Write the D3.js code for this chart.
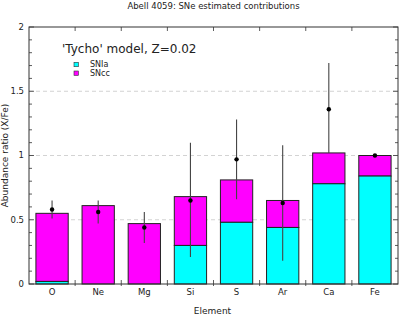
<!DOCTYPE html>
<html>
<head>
<meta charset="utf-8">
<script src="https://cdn.jsdelivr.net/npm/d3@7"></script>
<style>
  body { margin: 0; background: #fff; }
  svg { display: block; font-family: "DejaVu Sans", sans-serif; }
</style>
</head>
<body>
<div id="chart"></div>
<script>
// values
var elements = ["O", "Ne", "Mg", "Si", "S", "Ar", "Ca", "Fe"];
var snIa = [0.02, 0, 0, 0.30, 0.48, 0.44, 0.78, 0.84];
var snCC = [0.53, 0.61, 0.47, 0.38, 0.33, 0.21, 0.24, 0.16];
var measured = [0.58, 0.56, 0.44, 0.65, 0.97, 0.63, 1.36, 1.00];
var errLow = [0.51, 0.47, 0.32, 0.21, 0.66, 0.18, 1.02, 1.00];
var errHigh = [0.65, 0.65, 0.56, 1.10, 1.28, 1.08, 1.72, 1.00];
var yTicks = [0, 0.5, 1, 1.5, 2];
var seriesNames = ["SNIa", "SNcc"];

var W = 399, H = 316;
var plotL = 29, plotR = 398, plotT = 27, plotB = 284;

var svg = d3.select("#chart").append("svg")
  .attr("width", W).attr("height", H);

var x = d3.scaleBand()
  .domain(elements)
  .range([plotL, plotR])
  .paddingInner(0.3)
  .paddingOuter(0.15);

var y = d3.scaleLinear().domain([0, 2]).range([plotB, plotT]);

var z = d3.scaleOrdinal().domain(seriesNames).range(["#00ffff", "#ff00ff"]);

var data = elements.map(function(e, i) {
  return {el: e, ia: snIa[i], cc: snCC[i], m: measured[i], lo: errLow[i], hi: errHigh[i]};
});

// dashed grid
svg.append("g").selectAll("line")
  .data([0.5, 1, 1.5])
  .enter().append("line")
    .attr("x1", plotL).attr("x2", plotR)
    .attr("y1", function(d) { return y(d); })
    .attr("y2", function(d) { return y(d); })
    .attr("stroke", "#c8c8c8")
    .attr("stroke-width", 0.8)
    .attr("stroke-dasharray", "4,3");

// stacked bars
var bars = svg.append("g").selectAll("g")
  .data(data)
  .enter().append("g");

bars.append("rect")
  .attr("x", function(d) { return x(d.el); })
  .attr("width", x.bandwidth())
  .attr("y", function(d) { return y(d.ia + d.cc); })
  .attr("height", function(d) { return y(d.ia) - y(d.ia + d.cc); })
  .attr("fill", z("SNcc"))
  .attr("stroke", "#222").attr("stroke-width", 1);

bars.filter(function(d) { return d.ia > 0; }).append("rect")
  .attr("x", function(d) { return x(d.el); })
  .attr("width", x.bandwidth())
  .attr("y", function(d) { return y(d.ia); })
  .attr("height", function(d) { return y(0) - y(d.ia); })
  .attr("fill", z("SNIa"))
  .attr("stroke", "#222").attr("stroke-width", 1);

// measured values with errors
bars.append("line")
  .attr("x1", function(d) { return x(d.el) + x.bandwidth() / 2; })
  .attr("x2", function(d) { return x(d.el) + x.bandwidth() / 2; })
  .attr("y1", function(d) { return y(d.lo); })
  .attr("y2", function(d) { return y(d.hi); })
  .attr("stroke", "#444").attr("stroke-width", 1.1);

bars.append("circle")
  .attr("cx", function(d) { return x(d.el) + x.bandwidth() / 2; })
  .attr("cy", function(d) { return y(d.m); })
  .attr("r", 2.2)
  .attr("fill", "#000");

// frame
svg.append("rect")
  .attr("x", plotL).attr("y", plotT)
  .attr("width", plotR - plotL).attr("height", plotB - plotT)
  .attr("fill", "none").attr("stroke", "#333").attr("stroke-width", 1);

// left / right ticks
var minor = d3.range(0, 2.001, 0.1);
var tk = svg.append("g").attr("stroke", "#333").attr("stroke-width", 0.8);
minor.forEach(function(v) {
  var major = Math.abs(v * 2 - Math.round(v * 2)) < 1e-6;
  var len = major ? 5 : 3;
  tk.append("line").attr("x1", plotL).attr("x2", plotL + len)
    .attr("y1", y(v)).attr("y2", y(v));
  tk.append("line").attr("x1", plotR).attr("x2", plotR - len)
    .attr("y1", y(v)).attr("y2", y(v));
});

// category boundary ticks
var step = x.step();
d3.range(1, elements.length).forEach(function(k) {
  var xx = x(elements[k]) - x.paddingInner() * step / 2;
  tk.append("line").attr("x1", xx).attr("x2", xx)
    .attr("y1", plotB + 2).attr("y2", plotB - 4);
  tk.append("line").attr("x1", xx).attr("x2", xx)
    .attr("y1", plotT).attr("y2", plotT + 4);
});

// tick labels
svg.append("g").selectAll("text")
  .data(yTicks)
  .enter().append("text")
    .attr("x", 24)
    .attr("y", function(d) { return y(d); })
    .attr("dy", "0.35em")
    .attr("text-anchor", "end")
    .attr("font-size", 8.5)
    .attr("fill", "#222")
    .text(function(d) { return d; });

svg.append("g").selectAll("text")
  .data(elements)
  .enter().append("text")
    .attr("x", function(d) { return x(d) + x.bandwidth() / 2; })
    .attr("y", 294.5)
    .attr("text-anchor", "middle")
    .attr("font-size", 8.5)
    .attr("fill", "#222")
    .text(function(d) { return d; });

// titles
svg.append("text")
  .attr("x", (plotL + plotR) / 2).attr("y", 9)
  .attr("text-anchor", "middle")
  .attr("font-size", 8.5)
  .attr("fill", "#222")
  .text("Abell 4059: SNe estimated contributions");

svg.append("text")
  .attr("x", (plotL + plotR) / 2 - 1).attr("y", 314)
  .attr("text-anchor", "middle")
  .attr("font-size", 9)
  .attr("fill", "#222")
  .text("Element");

svg.append("text")
  .attr("transform", "translate(8," + ((plotT + plotB) / 2) + ") rotate(-90)")
  .attr("text-anchor", "middle")
  .attr("font-size", 9)
  .attr("fill", "#222")
  .text("Abundance ratio (X/Fe)");

// legend
svg.append("text")
  .attr("x", 62).attr("y", 52.5)
  .attr("font-size", 12)
  .attr("fill", "#222")
  .text("'Tycho' model, Z=0.02");

var legend = svg.append("g").selectAll("g")
  .data(seriesNames)
  .enter().append("g")
    .attr("transform", function(d, i) { return "translate(0," + (64.5 + i * 8.7) + ")"; });

legend.append("rect")
  .attr("x", 74).attr("y", -2.2)
  .attr("width", 4.4).attr("height", 4.4)
  .attr("fill", z)
  .attr("stroke", "#333").attr("stroke-width", 0.6);

legend.append("text")
  .attr("x", 90).attr("y", 0)
  .attr("dy", "0.35em")
  .attr("font-size", 8)
  .attr("fill", "#222")
  .text(function(d) { return d; });
</script>
</body>
</html>
